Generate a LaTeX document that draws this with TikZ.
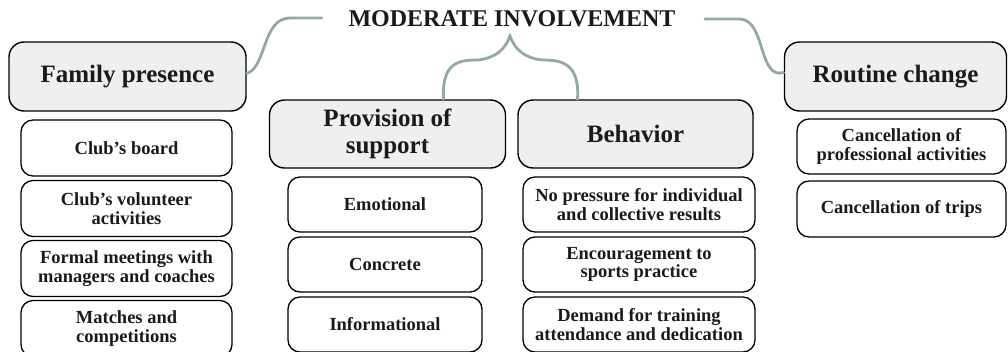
\documentclass[tikz,border=0pt]{standalone}
\usepackage{fontspec}
\setmainfont{Liberation Serif}
\definecolor{hdrfill}{HTML}{EFEFEF}
\definecolor{conn}{HTML}{94A8A8}
\definecolor{txt}{HTML}{1A1A1A}
\begin{document}
\begin{tikzpicture}[x=1pt,y=-1pt,
  header/.style={draw=black, line width=1.4pt, fill=hdrfill, rounded corners=15pt,
    inner sep=0pt, align=center, text=txt, font=\bfseries\fontsize{25}{27}\selectfont},
  item/.style={draw=black, line width=1.3pt, fill=white, rounded corners=12pt,
    inner sep=0pt, align=center, text=txt, font=\bfseries\fontsize{18.5}{18.5}\selectfont},
  link/.style={draw=conn, line width=2.8pt, line cap=round}]
\clip (0,0) rectangle (1008,351);
\fill[white] (0,0) rectangle (1008,351);

\node[text=txt, font=\bfseries\fontsize{24}{24}\selectfont] (title) at (512,18.5) {MODERATE INVOLVEMENT};

% headers
\node[header, minimum width=237pt, minimum height=69pt] (fam) at (127.5,76.5) {Family presence};
\node[header, minimum width=222pt, minimum height=69pt] (rout) at (895.5,76.5) {Routine change};
\node[header, minimum width=236pt, minimum height=68pt] (prov) at (387.5,134) {Provision of\\support};
\node[header, minimum width=235pt, minimum height=68pt] (beh) at (635.5,134) {Behavior};

% family presence items
\node[item, minimum width=211pt, minimum height=56pt] (f1) at (126.5,148) {Club’s board};
\node[item, minimum width=211pt, minimum height=56pt] (f2) at (126.5,208.5) {Club’s volunteer\\activities};
\node[item, minimum width=211pt, minimum height=56pt] (f3) at (126.5,268.5) {Formal meetings with\\managers and coaches};
\node[item, minimum width=211pt, minimum height=56pt] (f4) at (126.5,328.5) {Matches and\\competitions};

% provision items
\node[item, minimum width=194pt, minimum height=55pt] (p1) at (385,204.5) {Emotional};
\node[item, minimum width=194pt, minimum height=55pt] (p2) at (385,264.5) {Concrete};
\node[item, minimum width=194pt, minimum height=55pt] (p3) at (385,324.5) {Informational};

% behavior items
\node[item, minimum width=232pt, minimum height=55pt] (b1) at (639,204.5) {No pressure for individual\\and collective results};
\node[item, minimum width=232pt, minimum height=55pt] (b2) at (639,264.5) {Encouragement to\\sports practice};
\node[item, minimum width=232pt, minimum height=55pt] (b3) at (639,324.5) {Demand for training\\attendance and dedication};

% routine items
\node[item, minimum width=209pt, minimum height=55pt] (r1) at (901.5,146.5) {Cancellation of\\professional activities};
\node[item, minimum width=209pt, minimum height=56pt] (r2) at (901.5,209) {Cancellation of trips};

% connectors
\coordinate (lend) at (322,18);
\coordinate (rend) at (705,19);
\coordinate (apex) at (510,36);
\draw[link] ([yshift=3pt]fam.east) .. controls +(20,-6) and (262,18) .. (290,18) -- (lend);
\draw[link] (rend) -- (740,19) .. controls (766,20) and (758,80) .. ([yshift=4pt]rout.west);
\draw[link] ([xshift=56pt]prov.north) .. controls +(-2,-38) and (460,60) .. (478,60)
   .. controls (495,58) and (505,50) .. (apex)
   .. controls (515,50) and (525,58) .. (542,60)
   .. controls (560,60) and (580,62) .. ([xshift=-58pt]beh.north);
\end{tikzpicture}
\end{document}
